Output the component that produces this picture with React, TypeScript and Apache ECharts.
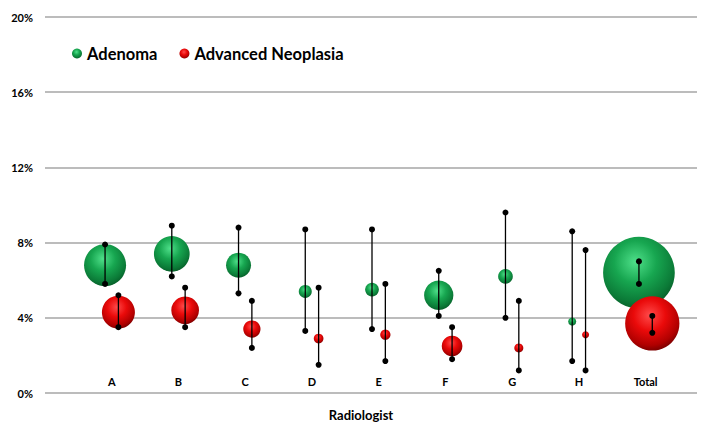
import React, { useEffect, useRef } from "react";
import * as echarts from "echarts";

const categories = ["A", "B", "C", "D", "E", "F", "G", "H", "Total"];
const yTicks = [0, 4, 8, 12, 16, 20];

const adenomaRate = [6.8, 7.4, 6.8, 5.4, 5.5, 5.2, 6.2, 3.8, 6.4];
const adenomaLow = [5.8, 6.2, 5.3, 3.3, 3.4, 4.1, 4.0, 1.7, 5.8];
const adenomaHigh = [7.9, 8.9, 8.8, 8.7, 8.7, 6.5, 9.6, 8.6, 7.0];
const adenomaBubble = [1764, 1274, 625, 169, 188, 858, 216, 64, 5141];

const neoplasiaRate = [4.3, 4.4, 3.4, 2.9, 3.1, 2.5, 2.4, 3.1, 3.7];
const neoplasiaLow = [3.5, 3.5, 2.4, 1.5, 1.7, 1.8, 1.2, 1.2, 3.2];
const neoplasiaHigh = [5.2, 5.6, 4.9, 5.6, 5.8, 3.5, 4.9, 7.6, 4.1];
const neoplasiaBubble = [1089, 767, 299, 94, 106, 428, 81, 49, 2948];

const FONT = "Lato, 'Open Sans', sans-serif";

const greenGrad = new echarts.graphic.RadialGradient(0.45, 0.35, 0.65, [
  { offset: 0, color: "#4fe08a" },
  { offset: 0.45, color: "#17a650" },
  { offset: 0.85, color: "#0b7a37" },
  { offset: 1, color: "#08622b" },
]);
const redGrad = new echarts.graphic.RadialGradient(0.45, 0.35, 0.65, [
  { offset: 0, color: "#ff4a4a" },
  { offset: 0.45, color: "#ea0a0a" },
  { offset: 0.85, color: "#b00000" },
  { offset: 1, color: "#800000" },
]);

export default function App() {
  const ref = useRef<HTMLDivElement>(null);
  useEffect(() => {
    if (!ref.current) return;
    const chart = echarts.init(ref.current, undefined, { renderer: "svg" });
    const OFF = 0.1;
    const adenomaData = categories.map((_, i) => [i + 1 - OFF, adenomaRate[i], adenomaBubble[i]]);
    const neoplasiaData = categories.map((_, i) => [i + 1 + OFF, neoplasiaRate[i], neoplasiaBubble[i]]);
    const errData = [
      ...categories.map((_, i) => [i + 1 - OFF, adenomaLow[i], adenomaHigh[i]]),
      ...categories.map((_, i) => [i + 1 + OFF, neoplasiaLow[i], neoplasiaHigh[i]]),
    ];
    chart.setOption({
      animation: false,
      textStyle: { fontFamily: FONT },
      grid: { left: 45, right: 9, top: 17, bottom: 41 },
      legend: {
        data: ["Adenoma", "Advanced Neoplasia"],
        left: 67,
        top: 40,
        icon: "circle",
        itemWidth: 10,
        itemHeight: 10,
        itemGap: 22,
        textStyle: { fontFamily: FONT, fontSize: 16.5, fontWeight: "bold", color: "#000" },
      },
      xAxis: {
        type: "value",
        min: 0,
        max: 9.77,
        interval: 1,
        name: "Radiologist",
        nameLocation: "middle",
        nameGap: 15,
        nameTextStyle: { fontFamily: FONT, fontSize: 13, fontWeight: "bold", color: "#000", padding: [0, 20, 0, 0] },
        axisLine: { show: false },
        axisTick: { show: false },
        splitLine: { show: false },
        axisLabel: {
          inside: true,
          margin: 6,
          fontFamily: FONT,
          fontSize: 11,
          fontWeight: "bold",
          color: "#000",
          showMaxLabel: false,
          formatter: (v: number) => {
            const k = Math.round(v);
            return Math.abs(v - k) < 1e-6 && k >= 1 && k <= categories.length ? categories[k - 1] : "";
          },
        },
      },
      yAxis: {
        type: "value",
        min: yTicks[0],
        max: yTicks[yTicks.length - 1],
        interval: 4,
        axisLine: { show: false },
        axisTick: { show: false },
        splitLine: { lineStyle: { color: "#a6a6a6", width: 1.5 } },
        axisLabel: {
          margin: 12,
          fontFamily: FONT,
          fontSize: 11,
          fontWeight: "bold",
          color: "#000",
          formatter: (v: number) => `${v}%`,
        },
      },
      series: [
        {
          name: "Adenoma",
          type: "scatter",
          data: adenomaData,
          symbolSize: (d: number[]) => Math.sqrt(d[2]),
          itemStyle: { color: greenGrad, opacity: 1 },
          z: 2,
        },
        {
          name: "Advanced Neoplasia",
          type: "scatter",
          data: neoplasiaData,
          symbolSize: (d: number[]) => Math.sqrt(d[2]),
          itemStyle: { color: redGrad, opacity: 1 },
          z: 3,
        },
        {
          name: "ci",
          type: "custom",
          z: 5,
          data: errData,
          renderItem: (params: any, api: any) => {
            const x = api.value(0);
            const lo = api.coord([x, api.value(1)]);
            const hi = api.coord([x, api.value(2)]);
            return {
              type: "group",
              children: [
                {
                  type: "line",
                  shape: { x1: lo[0], y1: lo[1], x2: hi[0], y2: hi[1] },
                  style: { stroke: "#000", lineWidth: 1.3 },
                },
                { type: "circle", shape: { cx: lo[0], cy: lo[1], r: 3 }, style: { fill: "#000" } },
                { type: "circle", shape: { cx: hi[0], cy: hi[1], r: 3 }, style: { fill: "#000" } },
              ],
            };
          },
        },
      ],
    });
    return () => chart.dispose();
  }, []);
  return (
    <div
      ref={ref}
      style={{ position: "fixed", left: 0, top: 0, width: 706, height: 434, background: "#fff" }}
    />
  );
}
